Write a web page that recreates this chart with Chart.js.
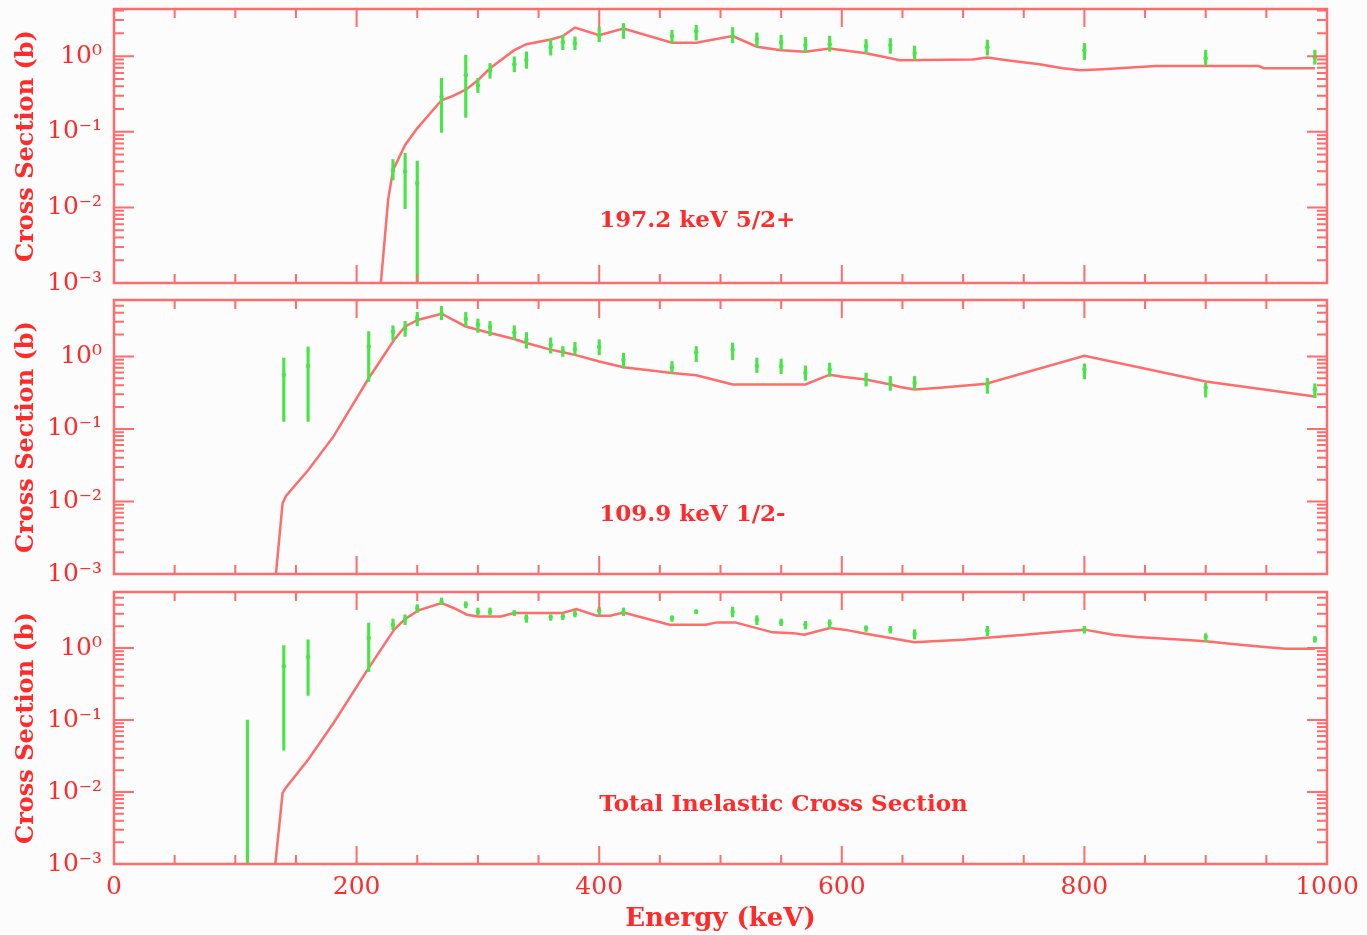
<!DOCTYPE html>
<html>
<head>
<meta charset="utf-8">
<script src="https://cdn.jsdelivr.net/npm/chart.js@4/dist/chart.umd.min.js"></script>
<style>
  body { margin: 0; background: #fcfcfc; }
  #wrap { position: relative; width: 1367px; height: 935px; }
  canvas { position: absolute; left: 0; }
</style>
</head>
<body>
<div id="wrap">
  <canvas id="c1" width="1367" height="292" style="top:0px"></canvas>
  <canvas id="c2" width="1367" height="290" style="top:292px"></canvas>
  <canvas id="c3" width="1367" height="353" style="top:582px"></canvas>
</div>
<script>
// 測定点のエネルギー (keV)
const energyCommon = [230, 240, 250, 270, 290, 300, 310, 330, 340, 360, 370, 380, 400, 420, 460, 480, 510, 530, 550, 570, 590, 620, 640, 660, 720, 800, 900, 990];
const energy2 = [140, 160, 210].concat(energyCommon);
const energy3 = [110, 140, 160, 210].concat(energyCommon);

// 197.2 keV 5/2+
const meas1 = [0.031, 0.030, 0.021, 0.29, 0.56, 0.41, 0.65, 0.78, 0.89, 1.31, 1.53, 1.48, 1.89, 2.27, 1.84, 2.14, 1.84, 1.68, 1.53, 1.40, 1.44, 1.36, 1.40, 1.10, 1.31, 1.20, 0.94, 0.97];
const low1  = [0.023, 0.0096, 0.0005, 0.098, 0.155, 0.33, 0.51, 0.62, 0.69, 1.03, 1.22, 1.22, 1.55, 1.71, 1.50, 1.63, 1.50, 1.33, 1.22, 1.12, 1.16, 1.09, 1.09, 0.90, 1.03, 0.90, 0.76, 0.78];
const high1 = [0.043, 0.052, 0.041, 0.51, 1.03, 0.51, 0.80, 0.98, 1.14, 1.66, 1.89, 1.80, 2.44, 2.70, 2.20, 2.56, 2.39, 2.03, 1.89, 1.77, 1.84, 1.66, 1.71, 1.36, 1.63, 1.47, 1.20, 1.20];
const calcE1 = [220, 226, 230, 240, 250, 263, 270, 280, 290, 300, 310, 330, 340, 360, 370, 380, 400, 420, 460, 480, 510, 530, 550, 570, 590, 620, 648, 708, 720, 736, 763, 782, 797, 815, 859, 944, 948, 990];
const calc1  = [0.001, 0.0126, 0.031, 0.067, 0.111, 0.194, 0.26, 0.30, 0.36, 0.48, 0.69, 1.2, 1.44, 1.66, 1.84, 2.39, 1.89, 2.32, 1.5, 1.5, 1.84, 1.33, 1.2, 1.14, 1.26, 1.09, 0.885, 0.90, 0.96, 0.885, 0.78, 0.69, 0.65, 0.67, 0.74, 0.74, 0.69, 0.69];

// 109.9 keV 1/2-
const meas2 = [0.56, 0.74, 1.37, 2.2, 2.39, 3.39, 3.88, 3.28, 2.74, 2.54, 2.14, 1.70, 1.45, 1.17, 1.26, 1.35, 0.90, 0.71, 1.14, 1.24, 0.74, 0.73, 0.59, 0.66, 0.48, 0.42, 0.43, 0.41, 0.66, 0.37, 0.35];
const low2  = [0.127, 0.127, 0.45, 1.66, 1.89, 2.65, 3.2, 2.65, 2.14, 1.93, 1.7, 1.3, 1.11, 1.0, 1.05, 1.05, 0.69, 0.59, 0.85, 0.9, 0.6, 0.58, 0.47, 0.53, 0.39, 0.34, 0.35, 0.31, 0.49, 0.275, 0.27];
const high2 = [0.95, 1.35, 2.2, 2.65, 3.04, 4.05, 4.9, 4.05, 3.28, 3.04, 2.65, 2.14, 1.8, 1.37, 1.56, 1.7, 1.11, 0.85, 1.37, 1.53, 0.95, 0.92, 0.74, 0.81, 0.59, 0.53, 0.53, 0.50, 0.79, 0.43, 0.42];
const calcE2 = [133.5, 139, 142, 160, 181, 210, 231, 240, 251, 270, 290, 300, 310, 330, 340, 360, 370, 380, 400, 420, 460, 480, 510, 570, 590, 602, 620, 640, 648, 660, 681, 719, 800, 900, 990];
const calc2  = [0.001, 0.0095, 0.012, 0.027, 0.079, 0.50, 1.70, 2.59, 3.21, 3.88, 2.59, 2.33, 2.1, 1.74, 1.53, 1.24, 1.14, 1.05, 0.85, 0.71, 0.59, 0.55, 0.41, 0.41, 0.56, 0.52, 0.48, 0.41, 0.38, 0.35, 0.37, 0.42, 1.02, 0.45, 0.28];

// Total Inelastic Cross Section
const meas3 = [0.0005, 0.56, 0.75, 1.38, 2.11, 2.53, 3.6, 4.4, 4.0, 3.2, 3.2, 3.06, 2.61, 2.69, 2.75, 3.0, 3.33, 3.12, 2.61, 3.19, 3.2, 2.47, 2.27, 2.11, 2.22, 1.9, 1.8, 1.58, 1.76, 1.8, 1.42, 1.33];
const low3  = [0.00001, 0.038, 0.22, 0.47, 1.8, 2.11, 3.12, 4.0, 3.6, 2.9, 2.9, 2.81, 2.27, 2.42, 2.47, 2.7, 2.9, 2.81, 2.34, 3.0, 2.7, 2.11, 2.04, 1.84, 1.9, 1.7, 1.61, 1.33, 1.48, 1.61, 1.24, 1.2];
const high3 = [0.1, 1.08, 1.3, 2.22, 2.53, 2.9, 4.0, 4.95, 4.4, 3.6, 3.6, 3.33, 2.9, 2.9, 3.0, 3.33, 3.7, 3.6, 2.81, 3.4, 3.7, 2.81, 2.53, 2.34, 2.47, 2.04, 2.0, 1.8, 2.0, 2.0, 1.58, 1.45];
const calcE3 = [133, 139, 142, 160, 181, 210, 231, 240, 251, 270, 280, 291, 300, 319, 330, 360, 370, 381, 398, 409, 420, 458, 488, 497, 512, 543, 560, 569, 590, 602, 620, 648, 660, 675, 700, 727, 751, 774, 800, 824, 843, 881, 900, 920, 944, 966, 990];
const calc3  = [0.001, 0.0097, 0.0117, 0.028, 0.091, 0.53, 1.8, 2.53, 3.33, 4.2, 3.6, 2.9, 2.75, 2.75, 3.06, 3.06, 3.06, 3.48, 2.81, 2.81, 3.12, 2.11, 2.11, 2.27, 2.27, 1.65, 1.61, 1.53, 1.9, 1.8, 1.58, 1.30, 1.2, 1.24, 1.3, 1.42, 1.53, 1.65, 1.8, 1.53, 1.42, 1.3, 1.24, 1.15, 1.05, 0.98, 0.98];

const yTickValues = [0.001, 0.01, 0.1, 1];
const yTickLabels = ['10⁻³', '10⁻²', '10⁻¹', '10⁰'];

const lineRed = '#ff6c6c';
const textRed = '#ff2a2a';
const green = '#48e448';
const serif = "'DejaVu Serif', serif";

// 枠と内向きの目盛り、パネル内ラベルを描く
const framePlugin = {
  id: 'frame',
  afterDatasetsDraw(chart, args, opts) {
    const { ctx, chartArea: a } = chart;
    const x = chart.scales.x, y = chart.scales.y;
    ctx.save();
    ctx.strokeStyle = lineRed;
    ctx.lineWidth = 2.5;
    ctx.strokeRect(a.left, a.top, a.right - a.left, a.bottom - a.top);
    ctx.lineWidth = 2;
    ctx.beginPath();
    for (let e = 0; e <= 1000; e += 50) {
      const px = x.getPixelForValue(e);
      const len = e % 200 === 0 ? 18 : 9;
      ctx.moveTo(px, a.bottom); ctx.lineTo(px, a.bottom - len);
      ctx.moveTo(px, a.top); ctx.lineTo(px, a.top + len);
    }
    for (let d = 0.001; d < y.max; d *= 10) {
      for (let m = 1; m <= 9; m++) {
        const v = d * m;
        if (v > y.max) break;
        const py = y.getPixelForValue(v);
        const len = m === 1 ? 20 : 10;
        ctx.moveTo(a.left, py); ctx.lineTo(a.left + len, py);
        ctx.moveTo(a.right, py); ctx.lineTo(a.right - len, py);
      }
    }
    ctx.stroke();
    ctx.fillStyle = textRed;
    ctx.font = 'bold 23px ' + serif;
    ctx.textBaseline = 'middle';
    ctx.textAlign = 'left';
    ctx.fillText(opts.text, x.getPixelForValue(400), y.getPixelForValue(0.0065));
    ctx.restore();
  }
};

function makePanel(id, label, energies, meas, low, high, calcE, calc, yMax, padTop, padBottom, showX) {
  const ctx = document.getElementById(id).getContext('2d');
  return new Chart(ctx, {
    type: 'line',
    data: {
      datasets: [
        {
          type: 'bar',
          data: energies.map((e, i) => ({ x: e, y: [low[i], high[i]] })),
          backgroundColor: green,
          borderWidth: 0,
          barThickness: 2.5,
          grouped: false
        },
        {
          data: energies.map((e, i) => ({ x: e, y: meas[i] })),
          showLine: false,
          pointRadius: 2.2,
          pointBorderWidth: 0,
          pointBackgroundColor: green
        },
        {
          data: calcE.map((e, i) => ({ x: e, y: calc[i] })),
          borderColor: lineRed,
          borderWidth: 2.5,
          pointRadius: 0,
          tension: 0,
          fill: false
        }
      ]
    },
    options: {
      responsive: false,
      animation: false,
      devicePixelRatio: 1,
      layout: { padding: { top: padTop, bottom: padBottom, left: 0, right: 40 } },
      plugins: {
        legend: { display: false },
        tooltip: { enabled: false },
        frame: { text: label }
      },
      scales: {
        x: {
          type: 'linear',
          min: 0,
          max: 1000,
          offset: false,
          display: showX,
          grid: { display: false, drawTicks: false, offset: false },
          border: { display: false },
          ticks: {
            stepSize: 200,
            color: textRed,
            font: { family: serif, size: 25 },
            padding: 8,
            maxRotation: 0,
            callback: v => String(v)
          },
          title: {
            display: true,
            text: 'Energy (keV)',
            color: textRed,
            font: { family: serif, size: 26, weight: 'bold' },
            padding: { top: 0, bottom: 0 }
          },
          afterFit: s => { s.height = showX ? 71 : 0; s.paddingLeft = 0; s.paddingRight = 0; }
        },
        y: {
          type: 'logarithmic',
          min: 0.001,
          max: yMax,
          grid: { display: false, drawTicks: false },
          border: { display: false },
          afterBuildTicks: s => { s.ticks = yTickValues.map(v => ({ value: v })); },
          ticks: {
            color: textRed,
            font: { family: serif, size: 25 },
            padding: 12,
            autoSkip: false,
            callback: (v, i) => yTickLabels[i]
          },
          title: {
            display: true,
            text: 'Cross Section (b)',
            color: textRed,
            font: { family: serif, size: 24, weight: 'bold' },
            padding: { top: 12, bottom: 0 }
          },
          afterFit: s => { s.width = 114; s.paddingTop = 0; s.paddingBottom = 0; }
        }
      }
    },
    plugins: [framePlugin]
  });
}

makePanel('c1', '197.2 keV 5/2+', energyCommon, meas1, low1, high1, calcE1, calc1, 4.2, 9, 9, false);
makePanel('c2', '109.9 keV 1/2-', energy2, meas2, low2, high2, calcE2, calc2, 6, 8, 8, false);
makePanel('c3', 'Total Inelastic Cross Section', energy3, meas3, low3, high3, calcE3, calc3, 6, 10, 0, true);
</script>
</body>
</html>
